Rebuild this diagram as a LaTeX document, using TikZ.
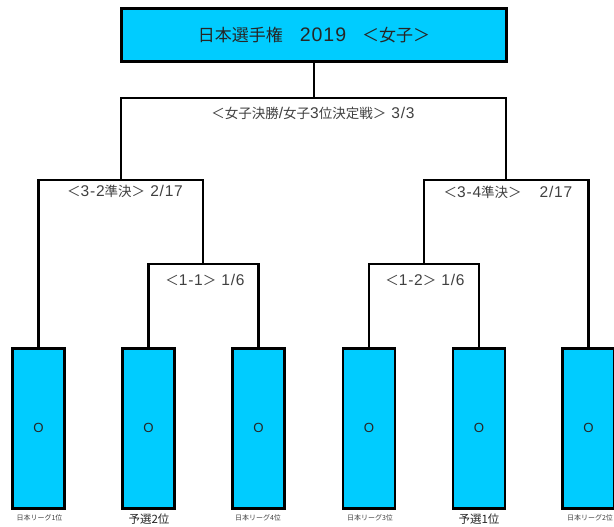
\documentclass[tikz,border=0pt]{standalone}
\usepackage{fontspec}
\setmainfont{Noto Sans CJK JP}
\newfontfamily\lat[Scale=1.15,LetterSpace=5]{Liberation Sans}
\begin{document}
\begin{tikzpicture}[x=1pt,y=-1pt,
  line/.style={line width=2.6pt,line cap=rect},
  leaf/.style={draw=black,line width=2.6pt,fill=cyan0,minimum width=52pt,minimum height=160pt,inner sep=0pt,anchor=north,font=\fontsize{11.5}{12}\selectfont\lat,text=black!85},
  lbl/.style={font=\fontsize{13.5}{14}\selectfont,text=black!75,inner sep=0pt},
  small/.style={font=\fontsize{7}{8}\selectfont,text=black!75,inner sep=0pt},
  mid/.style={font=\fontsize{11.5}{12}\selectfont,text=black!85,inner sep=0pt}]
\definecolor{cyan0}{HTML}{00CCFF}
\useasboundingbox (0,0) rectangle (614,527);
% title
\node[draw=black,line width=2.6pt,fill=cyan0,minimum width=385pt,minimum height=53pt,inner sep=0pt,
  font=\fontsize{17}{18}\selectfont,text=black!85] (title) at (314,35)
  {日本選手権\hspace{17pt}{\lat 2019}\hspace{16pt}＜女子＞};
% leaves
\node[leaf] (a) at (38.5,347) {O};
\node[leaf] (b) at (148.5,347) {O};
\node[leaf] (c) at (258.5,347) {O};
\node[leaf] (d) at (369,347) {O};
\node[leaf] (e) at (479,347) {O};
\node[leaf] (f) at (588.5,347) {O};
% junctions
\coordinate (top) at (314,98);
\coordinate (fL) at (121,98);
\coordinate (fR) at (506,98);
\coordinate (sL) at (121,180);
\coordinate (sR) at (506,180);
\coordinate (qA) at (203,180);
\coordinate (qA2) at (203,264);
\coordinate (qB) at (424,180);
\coordinate (qB2) at (424,264);
% connectors
\draw[line] (title.south) -- (top);
\draw[line] (sL) -- (fL) -- (fR) -- (sR);
\draw[line] (a.north) |- (qA) -- (qA2);
\draw[line] (b.north) |- (qA2) -| (c.north);
\draw[line] (f.north) |- (qB) -- (qB2);
\draw[line] (d.north) |- (qB2) -| (e.north);
% labels
\node[lbl] (l0) at (313,113) {＜女子決勝{\lat/}女子{\lat 3}位決定戦＞{\lat\ 3/3}};
\node[lbl] (l1) at (125,191) {＜{\lat 3-2}準決＞{\lat\ 2/17}};
\node[lbl] (l2) at (508,192) {＜{\lat 3-4}準決＞\hspace{18pt}{\lat 2/17}};
\node[lbl] (l3) at (205,280) {＜{\lat 1-1}＞{\lat\ 1/6}};
\node[lbl] (l4) at (425,280) {＜{\lat 1-2}＞{\lat\ 1/6}};
% bottom labels
\node[small] (n1) at (39.5,518) {日本リーグ1位};
\node[mid] (n2) at (149,519) {予選2位};
\node[small] (n3) at (258,518) {日本リーグ4位};
\node[small] (n4) at (370,518) {日本リーグ3位};
\node[mid] (n5) at (479,519) {予選1位};
\node[small] (n6) at (590,518) {日本リーグ2位};
\end{tikzpicture}
\end{document}
